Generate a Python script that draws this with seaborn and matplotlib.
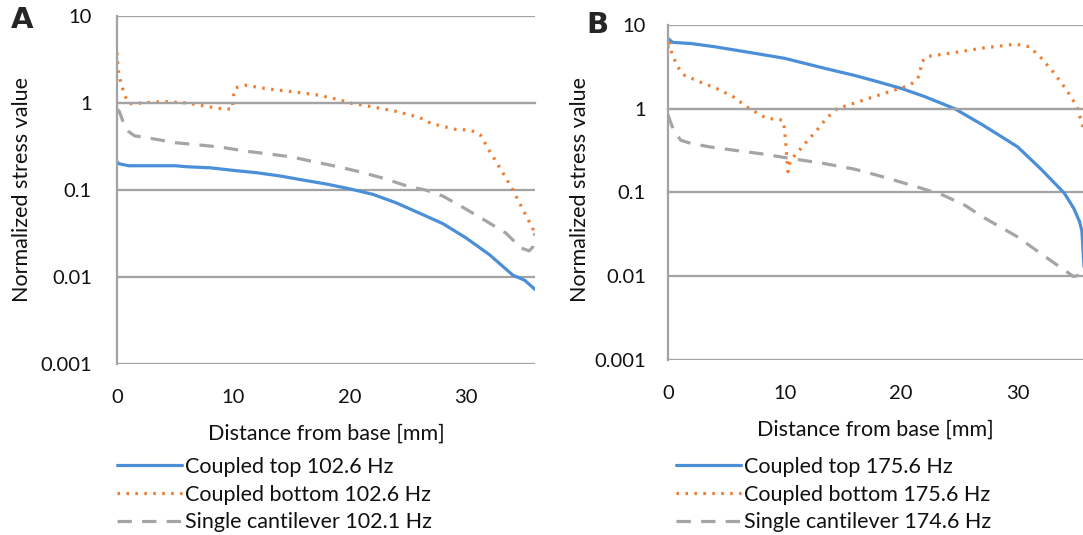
import numpy as np
import pandas as pd
import seaborn as sns
import matplotlib.pyplot as plt

# panel A
a_top_x = [0, 0.2, 1, 3, 5, 6, 8, 10, 12, 14, 16, 18, 20, 22, 24, 26, 28, 30, 32, 34, 35, 35.9]
a_top_y = [0.21, 0.2, 0.19, 0.19, 0.19, 0.185, 0.18, 0.168, 0.158, 0.145, 0.13, 0.117, 0.103,
           0.089, 0.071, 0.054, 0.041, 0.028, 0.018, 0.0105, 0.0092, 0.0072]
a_bot_x = [0, 0.1, 0.2, 0.4, 0.7, 1.0, 1.5, 2, 4, 6, 7, 8, 9, 9.9, 10.0, 10.2, 11, 13, 15, 17,
           19, 20, 22, 24, 26, 27, 28, 29, 30, 30.7, 31.2, 32, 33, 34, 35, 35.9]
a_bot_y = [3.8, 2.5, 2.0, 1.6, 1.2, 1.0, 0.96, 1.0, 1.04, 1.0, 0.95, 0.9, 0.86, 0.85, 1.2, 1.5,
           1.6, 1.45, 1.35, 1.25, 1.1, 1.0, 0.9, 0.8, 0.68, 0.58, 0.54, 0.5, 0.49, 0.47, 0.43,
           0.28, 0.17, 0.1, 0.055, 0.032]
a_single_x = [0, 0.2, 0.5, 1.0, 1.5, 3, 5, 7, 9, 11, 13, 15, 17, 19, 21, 23, 25, 26.5, 28, 30,
              31.7, 33.4, 34.7, 35.4, 35.7, 35.9]
a_single_y = [0.85, 0.8, 0.62, 0.47, 0.42, 0.39, 0.35, 0.33, 0.31, 0.28, 0.26, 0.24, 0.21, 0.185,
              0.16, 0.135, 0.11, 0.1, 0.085, 0.06, 0.044, 0.032, 0.0215, 0.02, 0.022, 0.032]

# panel B
b_top_x = [0, 0.4, 2, 4, 7, 10, 13.6, 16, 18, 20, 22, 24.6, 27, 30, 32, 34, 34.8, 35.3, 35.5, 35.7, 36]
b_top_y = [6.9, 6.2, 6.0, 5.5, 4.7, 4.0, 3.0, 2.5, 2.1, 1.75, 1.4, 1.0, 0.64, 0.35, 0.19, 0.098,
           0.065, 0.045, 0.035, 0.012, 0.005]
b_bot_x = [0, 0.1, 0.25, 0.43, 1.0, 1.43, 2.7, 4.15, 5.6, 7.0, 8.45, 9.6, 9.9, 10.0, 10.1, 10.2,
           10.3, 10.5, 11, 12, 12.8, 13.6, 14.5, 17, 19, 19.9, 20.7, 21.3, 21.6, 21.75, 22.2,
           24.2, 27, 29.8, 31, 31.9, 33, 34.2, 35.1, 35.5, 36]
b_bot_y = [5.3, 6.5, 5.0, 4.2, 2.9, 2.5, 2.1, 1.75, 1.39, 1.0, 0.77, 0.74, 0.72, 0.55, 0.4, 0.25,
           0.177, 0.24, 0.29, 0.42, 0.56, 0.77, 1.0, 1.3, 1.6, 1.75, 1.9, 2.2, 2.55, 3.6, 4.2,
           4.6, 5.3, 5.9, 5.5, 4.2, 2.8, 1.67, 1.05, 0.67, 0.4]
b_single_x = [0, 0.2, 0.5, 1.1, 2, 3.6, 6, 8, 10.5, 13.3, 16, 18, 19.9, 21.5, 23.6, 25.5, 27,
              29.9, 32.8, 34.8, 35.5, 36]
b_single_y = [0.85, 0.7, 0.55, 0.42, 0.385, 0.35, 0.315, 0.29, 0.255, 0.223, 0.19, 0.16, 0.134,
              0.115, 0.093, 0.07, 0.051, 0.03, 0.0155, 0.0099, 0.0105, 0.012]

a_labels = ['Coupled top 102.6 Hz', 'Coupled bottom 102.6 Hz', 'Single cantilever 102.1 Hz']
b_labels = ['Coupled top 175.6 Hz', 'Coupled bottom 175.6 Hz', 'Single cantilever 174.6 Hz']
y_ticks = [0.001, 0.01, 0.1, 1, 10]
y_tick_labels = ['0.001', '0.01', '0.1', '1', '10']
x_ticks = [0, 10, 20, 30]

sns.set_style('white')
plt.rcParams['font.family'] = ['Lato', 'DejaVu Sans']

grid_c = '#a3a3a3'
colors = ['#4a8fd8', '#ee7d31', '#a5a5a5']
styles = ['-', (0, (0.8, 2.0)), (0, (4.5, 3.2))]

fig = plt.figure(figsize=(10.83, 5.35), dpi=100)
ax_a = fig.add_axes([0.1080, 0.3196, 0.386, 0.6505])
ax_b = fig.add_axes([0.6168, 0.3271, 0.3832, 0.6262])


def draw(ax, series, labels, xmax, ytick_pad, leg_x):
    for (xs, ys), lab, c, ls in zip(series, labels, colors, styles):
        df = pd.DataFrame({'x': xs, 'y': ys})
        sns.lineplot(data=df, x='x', y='y', ax=ax, color=c, linestyle=ls,
                     linewidth=2.3, label=lab, estimator=None, sort=False)
    ax.set_yscale('log')
    ax.set_ylim(0.001, 10)
    ax.set_xlim(0, xmax)
    ax.set_yticks(y_ticks)
    ax.set_yticklabels(y_tick_labels)
    ax.minorticks_off()
    ax.yaxis.grid(True, color=grid_c, linewidth=1.6)
    ax.xaxis.grid(False)
    ax.set_axisbelow(True)
    for s in ['top', 'right']:
        ax.spines[s].set_visible(False)
    ax.spines['left'].set_color(grid_c)
    ax.spines['left'].set_linewidth(1.6)
    # horizontal axis crosses at y = 1 (labels stay at the bottom)
    ax.spines['bottom'].set_position(('data', 1))
    ax.spines['bottom'].set_color(grid_c)
    ax.spines['bottom'].set_linewidth(1.6)
    ax.set_xticks(x_ticks)
    ax.tick_params(axis='x', direction='out', length=6, width=1.3, color=grid_c,
                   labelbottom=False)
    ax.tick_params(axis='y', direction='out', length=6, width=1.6, color=grid_c,
                   labelsize=14.5, pad=ytick_pad, labelcolor='#111111')
    sec = ax.secondary_xaxis(0)
    sec.set_xticks(x_ticks)
    sec.tick_params(length=0, labelsize=14.5, pad=18, labelcolor='#111111')
    sec.spines['bottom'].set_visible(False)
    sec.set_xlabel('Distance from base [mm]', fontsize=15.5, labelpad=13, color='#111111')
    ax.set_xlabel('')
    ax.set_ylabel('')
    leg = ax.legend(loc='upper left', bbox_to_anchor=(leg_x, 1 - 457 / 535),
                    bbox_transform=fig.transFigure, frameon=False, fontsize=15.5,
                    handlelength=3.0, handletextpad=0.15, labelspacing=0.36,
                    borderpad=0, borderaxespad=0)
    for t in leg.get_texts():
        t.set_color('#111111')


draw(ax_a, [(a_top_x, a_top_y), (a_bot_x, a_bot_y), (a_single_x, a_single_y)],
     a_labels, 35.9, 12, 117 / 1083)
draw(ax_b, [(b_top_x, b_top_y), (b_bot_x, b_bot_y), (b_single_x, b_single_y)],
     b_labels, 35.6, 10, 676 / 1083)

fig.text(22 / 1083, 1 - 190 / 535, 'Normalized stress value', rotation=90,
         ha='center', va='center', fontsize=15.5, color='#111111')
fig.text(580 / 1083, 1 - 190 / 535, 'Normalized stress value', rotation=90,
         ha='center', va='center', fontsize=15.5, color='#111111')
fig.text(22 / 1083, 1 - 20 / 535, 'A', ha='center', va='center', fontsize=21,
         fontweight='bold', family=['DejaVu Sans'])
fig.text(597 / 1083, 1 - 25 / 535, 'B', ha='center', va='center', fontsize=21,
         fontweight='bold', family=['DejaVu Sans'])

fig.savefig('out.png', dpi=100)
